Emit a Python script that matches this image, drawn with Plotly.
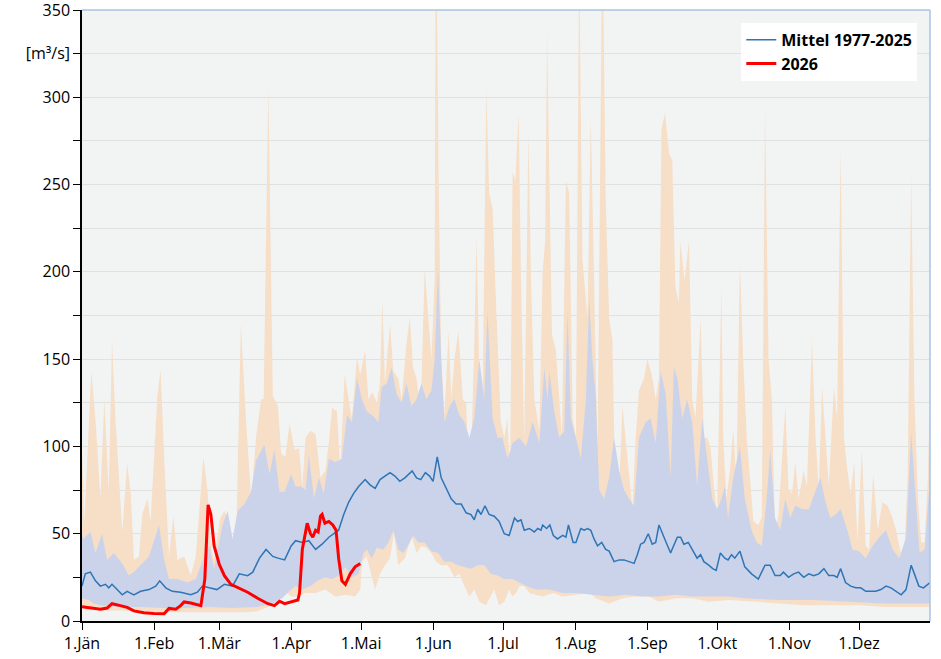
import plotly.graph_objects as go

# ---------------- axis labels ----------------
month_days = [0, 31, 59, 90, 120, 151, 181, 212, 243, 273, 304, 334]
month_labels = ["1.Jän", "1.Feb", "1.Mär", "1.Apr", "1.Mai", "1.Jun",
                "1.Jul", "1.Aug", "1.Sep", "1.Okt", "1.Nov", "1.Dez"]
y_tickvals = list(range(0, 351, 25))
y_ticktext = ["0", "", "50", "", "100", "", "150", "", "200", "", "250", "",
              "300", "[m³/s]", "350"]

# ---------------- data (day of year, m³/s) ----------------
max_days = [0, 1, 4, 5.8, 7.9, 9.6, 11.5, 12.9, 14.4, 17.3, 19.4, 20.9, 22.3, 24.5, 25.9, 28.1, 29.5,
            32.4, 33.8, 35.3, 37.4, 39.3, 41, 43.9, 46.8, 48.9, 52.2, 54, 55.4, 56.8, 59.4, 61.2, 63.3,
            64.7, 66.2, 68.3, 70.5, 72.7, 74.8, 77, 78.1, 80.1, 82, 84.2, 85.6, 87.4, 89.2, 91.4,
            93.3, 94.7, 96.1, 98.2, 100.4, 102.5, 104.6, 106.1, 107.5, 109.6, 111, 112.9, 114.6, 116,
            118.2, 119.6, 121.7, 123.1, 124.8, 126.7, 128.1, 129.1, 130.2, 132.4, 133.8, 135.9, 137.4,
            139.5, 140.9, 142.3, 143.8, 145.6, 147.3, 148.7, 150.2, 151.6, 152.1, 153.3, 154.4, 155.8,
            157.6, 158.7, 160.1, 161.8, 163.7, 165.1, 165.8, 167.2, 168.6, 169.6, 170.8, 172.2, 173.8,
            175, 176.5, 177.9, 178.9, 180, 181.5, 182.9, 184, 185.1, 186.3, 187.7, 188.7, 190.1, 191.9,
            193, 194.4, 196.6, 198, 199.1, 199.9, 200.9, 202, 203.7, 205.1, 206.3, 208, 209.4, 210.9,
            212.3, 213.7, 215.1, 217.3, 218.7, 220.1, 221.6, 223.7, 225.1, 226.6, 228, 229.1, 230.9,
            232.3, 233.7, 235.4, 236.6, 238, 239.4, 241.6, 243, 244.9, 246.6, 248, 249.1, 250.6, 252.3,
            253.7, 255.1, 256.6, 257.2, 258, 259, 260.9, 262.3, 263.7, 265.9, 267.3, 268.7, 270.1,
            271.6, 273, 274.8, 275.6, 277, 278.5, 279.9, 281.3, 282.8, 284.2, 285.7, 287.1, 288.6,
            290.7, 292.2, 293.6, 295.1, 296.5, 297.9, 299.4, 300.8, 302.3, 303.7, 305.2, 306.6, 308,
            310.2, 311.6, 313.8, 315.3, 316.7, 318.1, 319.6, 321, 323.2, 324.6, 326.1, 327.5, 329,
            330.4, 331.9, 333.3, 335.2, 336.9, 338.3, 340.1, 342, 344.1, 346.3, 348.4, 349.9, 352.1,
            353.5, 354.9, 356.4, 357.8, 359.3, 360.7, 362.2, 363.6, 364.5]
max_vals = [100, 55, 143, 115, 70, 127, 74, 160, 115, 51, 90, 74, 35, 37, 61, 70, 57,
            129, 144, 94, 37, 60, 35, 37, 26, 37, 94, 74, 43, 35, 59, 63, 57,
            47, 41, 170, 115, 70, 105, 127, 127, 306, 129, 123, 96, 94, 113, 98,
            99, 77, 105, 109, 107, 82, 86, 102, 122, 120, 86, 141, 127, 116,
            151, 141, 155, 127, 131, 125, 136, 184, 136, 170, 143, 139, 127,
            159, 174, 145, 139, 120, 202, 177, 150, 195, 420, 252, 150, 118,
            166, 127, 150, 166, 127, 125, 102, 93, 157, 220, 139, 127, 305,
            245, 236, 184, 150, 114, 105, 116, 82, 257, 252, 291, 195, 102, 280,
            195, 127, 109, 200, 218, 337, 240, 164, 155, 127, 105, 252, 245, 116,
            105, 380, 207, 173, 289, 195, 93, 400, 241, 173, 161, 77, 75,
            123, 105, 82, 64, 105, 132, 139, 150, 141, 127, 139, 282, 291, 268,
            264, 191, 182, 218, 207, 195, 218, 127, 116, 173, 105, 105, 100,
            77, 61, 191, 105, 70, 86, 109, 82, 205, 150, 105, 82, 57,
            55, 59, 293, 150, 127, 50, 61, 93, 123, 75, 73, 91, 70,
            86, 77, 161, 105, 75, 134, 105, 77, 134, 116, 272, 105, 86,
            73, 91, 45, 98, 43, 41, 84, 52, 68, 66, 59, 52, 38,
            40, 82, 255, 127, 70, 45, 45, 82, 132]

p90_days = [0, 0.7, 3.6, 5.8, 8.6, 10.8, 13.7, 17.3, 20.1, 22.3, 25.9, 28.8, 33.1, 35.3, 37.4, 41,
            45.3, 48.9, 52.5, 54.7, 56.8, 60.4, 62.6, 64.7, 66.9, 69.8, 72.7, 74.8, 78.4, 80.6, 82.7,
            84.9, 87.1, 89.9, 91.8, 94, 96.1, 97.5, 99.7, 101.8, 103.9, 106.1, 108.9, 111.7, 113.9,
            116, 118.2, 120.3, 122.4, 124.6, 127.4, 128.8, 131, 133.1, 135.2, 137.4, 139.5, 141.6,
            143.8, 145.9, 148, 150.2, 151.6, 153, 154.4, 155.8, 158, 160.1, 162.2, 164.4, 166.5,
            168.6, 170.8, 172.9, 174.3, 176.5, 178.6, 180.7, 182.9, 185.1, 188, 190.9, 193.7, 196.6,
            198.7, 200.1, 200.9, 203, 205.1, 207.3, 208.7, 210.1, 212.3, 214.4, 216.6, 218, 219.4,
            220.9, 222.3, 224.4, 226.6, 228.7, 230.9, 233, 235.1, 237.3, 239.4, 242.3, 244.4, 246.6,
            248.7, 250.9, 253, 254.4, 255.9, 258, 260.1, 262.3, 264.4, 266.6, 268.7, 270.9, 273,
            274.9, 276.3, 277.7, 279.9, 282.8, 284.9, 287.8, 290, 292.2, 294.3, 295.8, 297.9, 300.1,
            302.3, 304.4, 306.6, 309.5, 312.4, 315.3, 317.4, 319.6, 321.7, 323.9, 326.1, 329, 331.1,
            334, 336.9, 339.8, 342.7, 345.6, 348.4, 351.3, 354.2, 356.4, 357.8, 360, 362.2, 364.5]
p90_vals = [49, 47, 51, 39, 50, 35, 39, 33, 26, 28, 33, 37, 55, 35, 24, 24,
            22, 24, 37, 43, 30, 55, 63, 47, 63, 67, 74, 92, 101, 84, 98,
            74, 74, 84, 77, 77, 75, 95, 70, 82, 73, 93, 91, 93, 118,
            114, 139, 127, 120, 118, 114, 134, 136, 145, 130, 125, 136, 123,
            127, 136, 127, 132, 150, 202, 150, 114, 123, 127, 118, 114, 105,
            116, 150, 127, 177, 116, 105, 105, 93, 102, 105, 100, 114, 102,
            145, 127, 143, 120, 105, 109, 177, 116, 105, 93, 127, 184, 150,
            127, 75, 70, 82, 105, 86, 75, 70, 66, 105, 114, 116, 102,
            143, 130, 82, 145, 139, 116, 127, 114, 77, 116, 93, 70, 64,
            70, 77, 59, 82, 100, 70, 52, 45, 43, 70, 98, 59, 52,
            70, 59, 66, 64, 64, 75, 82, 68, 59, 61, 64, 52, 41,
            40, 36, 43, 48, 52, 41, 36, 48, 108, 82, 39, 41, 82]

p10_days = [0, 3, 5, 8, 15, 25, 35, 45, 55, 65, 75, 82, 86, 89, 91.8, 94.7, 98.2, 101.1, 104.6,
            107.5, 110.3, 113.2, 116, 118.9, 121, 122.4, 124.6, 126.7, 129.5, 131.7, 133.8, 135.9,
            138.1, 140.9, 142.3, 144.5, 147.3, 150.2, 153, 155.8, 158.7, 161.5, 164.4, 167.2, 170.1,
            172.9, 175.8, 178.6, 181.5, 185, 188, 190.9, 195.1, 200.9, 206.6, 212.3, 219.4, 226.6,
            233.7, 240.9, 248, 255.1, 262.3, 269.4, 278, 285, 300, 315, 330, 345, 364.5]
p10_vals = [13, 12, 10, 9, 8, 8, 7.5, 7.5, 8, 7.5, 8, 10, 13, 17, 20, 18, 20, 23, 25,
            24, 26, 31, 25, 27, 39, 41, 36, 42, 41, 45, 52, 41,
            39, 45, 49, 45, 45, 40, 39, 34, 34, 32, 31, 30, 32,
            32, 27, 26, 24, 24, 22, 20, 18, 18, 16, 16, 15, 14,
            15, 14, 14, 15, 14, 14, 14, 13, 12, 12, 11, 10, 10]

min_days = [0, 2, 5, 10, 20, 30, 40, 50, 55, 62, 70, 75, 80, 83, 86, 88, 90, 92, 96.1, 100.4,
            104.6, 108.9, 113.2, 117.4, 119.6, 120.3, 122.4, 124.6, 126, 128.1, 130.2, 132.4, 134.1,
            135.9, 138.8, 141.6, 143.8, 145.9, 148, 150.2, 152.3, 154.4, 157.3, 160.1, 162.2, 164.4,
            166.5, 168.6, 170.8, 173.6, 175.8, 177.2, 179.3, 181.5, 183.6, 185, 186.6, 188, 190.1,
            192.3, 195.1, 198, 202.6, 206.6, 212.3, 218, 220.9, 226.6, 232.3, 238, 243.7, 248, 255.1,
            262.3, 269.4, 278, 290, 300, 310, 320, 335, 345, 355, 364.5]
min_vals = [8, 6, 7, 6, 6, 5.5, 5, 5, 5, 5, 5, 5.5, 8, 12, 14, 16, 14, 14, 16, 16,
            18, 14, 15, 14, 18, 34, 37, 25, 18, 27, 32, 36, 51,
            32, 36, 49, 39, 43, 42, 39, 34, 32, 32, 25, 27, 20,
            14, 18, 11, 9, 14, 18, 9, 11, 18, 14, 16, 20, 20,
            16, 15, 14, 16, 14, 15, 16, 13, 10, 13, 14, 14, 11, 13,
            13, 11, 12, 11, 10, 9, 9, 9, 8, 8, 8]

mean_days = [0, 1.4, 3.6, 5.8, 7.9, 10.1, 11.5, 12.9, 15.1, 17.3, 19.4, 22.3, 25.2, 28.8, 31.7, 33.4,
             36, 38.8, 42.4, 46.8, 49.6, 51.8, 54.7, 58, 61.2, 64.7, 67.6, 71.2, 73.4, 76.3, 79.1, 82,
             84.2, 87.1, 89.9, 91.8, 94.7, 97.5, 100.4, 103.2, 106.1, 108.2, 110.3, 112.5, 114.6,
             116.7, 118.9, 121.7, 123.8, 126, 128.1, 130.2, 132.4, 134.5, 136.6, 138.8, 141.9, 143.8,
             145.6, 147.6, 149.4, 150.9, 152.7, 154.4, 156.6, 158.7, 160.8, 163, 165.1, 167.2, 168.6,
             170.1, 171.5, 173.2, 175, 177.2, 179.3, 181.5, 183.6, 185.9, 187.3, 188.7, 190.1, 192.3,
             194.4, 195.9, 197.3, 198, 199.7, 201.1, 202.6, 204.4, 206.6, 208, 209.1, 211.1, 212.3,
             214.4, 215.9, 217.3, 218.7, 220.1, 221.6, 223.4, 225.1, 226.6, 228.7, 230.9, 233, 235.1,
             237.3, 238.7, 240.1, 241.6, 243.4, 245.1, 246.6, 248, 249.7, 251.1, 253, 254.4, 255.9,
             257.3, 258.7, 260.6, 262.3, 264.4, 265.9, 267.3, 269.4, 271.1, 272.6, 274.4, 276.3,
             277.7, 279.2, 280.6, 282.8, 284.9, 287.8, 290.7, 293.6, 295.8, 297.9, 300.1, 301.5,
             303.7, 305.9, 308, 310.2, 312.4, 314.5, 316.7, 318.9, 321, 323.2, 324.6, 326.1, 328.2,
             330.4, 332.6, 334.7, 336.9, 339.1, 341.2, 343.4, 345.6, 347.7, 349.9, 352.1, 354.2,
             356.4, 357.8, 359.7, 361.7, 364.5]
mean_vals = [20, 27, 28, 23, 20, 21, 19, 21, 18, 15, 17, 15, 17, 18, 20, 23,
             19, 17, 16.5, 15, 16.5, 20, 19, 18, 21, 20, 27, 26, 28, 36, 41, 37,
             36, 35, 43, 46, 45, 46, 41, 44, 48, 50, 52, 61, 68,
             73, 77, 81, 78, 76, 81, 83, 85, 83, 80, 82, 86, 82,
             81, 85, 83, 80, 94, 82, 76, 70, 67, 67, 62, 61, 58,
             64, 61, 66, 61, 60, 57, 50, 49, 59, 57, 58, 52, 53,
             51, 53, 52, 55, 53, 55, 49, 47, 49, 48, 55, 45, 45,
             53, 52, 53, 52, 47, 43, 45, 41, 40, 34, 35, 35, 34,
             33, 38, 44, 45, 50, 44, 45, 55, 50, 45, 39, 43, 48,
             48, 44, 45, 41, 36, 38, 34, 32, 30, 29, 39, 36,
             35, 38, 36, 40, 31, 27, 24, 32, 32, 26, 26, 28,
             25, 27, 28, 25, 27, 26, 27, 30, 26, 26, 25, 30, 22,
             20, 19, 19, 17, 17, 17, 18, 20, 19, 17, 15, 18,
             32, 27, 20, 19, 22]

y2026_days = [0, 3.6, 7.9, 10.8, 12.9, 16.5, 19.4, 22.3, 26.6, 30.9, 35.3, 37.4, 40.3, 42.4, 43.9,
              46.8, 48.9, 51.1, 52.8, 54.2, 55.4, 56.8, 59, 61.2, 64, 66.9, 71.2, 75.5, 79.9, 82.7,
              84.9, 87.1, 89.9, 92.8, 93.5, 94.7, 96.8, 98.2, 99.2, 100.4, 101.5, 102.5, 103.2, 104.4,
              106.1, 107.8, 109.2, 110.3, 111.7, 113.2, 115.3, 117.4, 119.6]
y2026_vals = [8.2, 7.4, 6.8, 7.4, 9.9, 8.8, 7.8, 5.8, 4.7, 4.3, 4.1, 7.2, 6.8, 8.8, 10.9,
              10.3, 9.5, 8.8, 24, 66.5, 61, 43, 32.5, 26, 21, 19, 16.5, 13, 9.9, 8.8,
              11.3, 9.9, 10.9, 12, 16, 41, 56, 50, 48, 52, 51, 60, 61, 56,
              57, 55, 52, 36, 23, 21, 27, 31, 33]

# ---------------- figure ----------------
ORANGE = "rgb(246,222,199)"
BLUE_BAND = "rgb(203,211,234)"
MEAN_C = "#2E75B6"
RED = "#FF0000"

fig = go.Figure()
fig.add_trace(go.Scatter(x=min_days, y=min_vals, mode="lines", line=dict(width=0),
                         showlegend=False, hoverinfo="skip"))
fig.add_trace(go.Scatter(x=max_days, y=max_vals, mode="lines", line=dict(width=0),
                         fill="tonexty", fillcolor=ORANGE, showlegend=False, hoverinfo="skip"))
fig.add_trace(go.Scatter(x=p10_days, y=p10_vals, mode="lines", line=dict(width=0),
                         showlegend=False, hoverinfo="skip"))
fig.add_trace(go.Scatter(x=p90_days, y=p90_vals, mode="lines", line=dict(width=0),
                         fill="tonexty", fillcolor=BLUE_BAND, showlegend=False, hoverinfo="skip"))
fig.add_trace(go.Scatter(x=mean_days, y=mean_vals, mode="lines", name="Mittel 1977-2025",
                         line=dict(color=MEAN_C, width=1.5)))
fig.add_trace(go.Scatter(x=y2026_days, y=y2026_vals, mode="lines", name="2026",
                         line=dict(color=RED, width=3)))

fig.update_layout(
    width=941, height=659,
    margin=dict(l=82, r=11, t=10, b=38, autoexpand=False),
    paper_bgcolor="white",
    plot_bgcolor="rgb(242,243,243)",
    font=dict(family="Open Sans, sans-serif", size=16, color="black"),
    legend=dict(x=0.985, y=0.979, xanchor="right", yanchor="top",
                traceorder="normal",
                bgcolor="white", borderwidth=0,
                font=dict(size=16, weight="bold", color="black"),
                itemwidth=30),
    xaxis=dict(range=[0, 364.5], tickvals=month_days, ticktext=month_labels,
               automargin=False,
               showgrid=False, zeroline=False, showline=True, linecolor="black",
               linewidth=1.5, ticks="outside", ticklen=7, tickcolor="black",
               tickfont=dict(size=16)),
    yaxis=dict(range=[0, 350], tickvals=y_tickvals, ticktext=y_ticktext,
               automargin=False, ticklabeloverflow="allow",
               showgrid=True, gridcolor="rgb(224,226,226)", gridwidth=1,
               zeroline=False, showline=True, linecolor="black", linewidth=1.5,
               ticks="outside", ticklen=7, tickcolor="black",
               tickfont=dict(size=16)),
    shapes=[
        dict(type="line", xref="paper", yref="paper", x0=0, x1=1, y0=1, y1=1,
             line=dict(color="rgb(170,195,228)", width=1.5)),
        dict(type="line", xref="paper", yref="paper", x0=1, x1=1, y0=0, y1=1,
             line=dict(color="rgb(170,195,228)", width=1.5)),
    ],
)

# remove the default page margin so the figure sits at the window's top-left corner
fig.write_html("out.html", config={"displayModeBar": False},
               post_script="document.body.style.margin='0px';")
